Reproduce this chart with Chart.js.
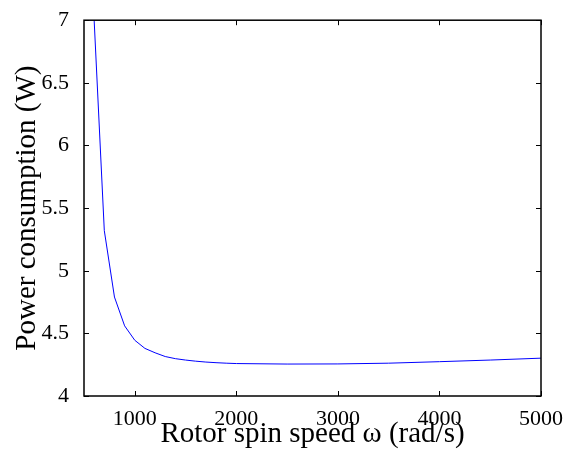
<!DOCTYPE html>
<html>
<head>
<meta charset="utf-8">
<script src="https://cdn.jsdelivr.net/npm/chart.js@4.4.0/dist/chart.umd.min.js"></script>
<style>
    html, body { margin: 0; padding: 0; background: #fff; }
    #contenedor { width: 565px; height: 452px; }
</style>
</head>
<body>
<div id="contenedor"><canvas id="grafico" width="565" height="452"></canvas></div>
<script>
// velocidad del rotor (rad/s) y potencia (W)
const velocidades = [600, 700, 800, 900, 1000, 1100, 1200, 1300, 1400, 1500, 1600, 1700, 1800, 1900, 2000, 2500, 3000, 3500, 4000, 4500, 5000];
const potencias = [7.0, 5.32, 4.79, 4.56, 4.445, 4.38, 4.345, 4.315, 4.298, 4.287, 4.278, 4.271, 4.266, 4.262, 4.259, 4.255, 4.256, 4.262, 4.274, 4.287, 4.302];

const ticksX = [1000, 2000, 3000, 4000, 5000];
const ticksY = [4, 4.5, 5, 5.5, 6, 6.5, 7];

const fuente = "'Liberation Serif', 'Times New Roman', serif";

// caja y marcas hacia dentro, estilo matlab
const marcoMatlab = {
    id: "marcoMatlab",
    afterDraw(chart) {
        const { ctx, chartArea: a, scales } = chart;
        const largo = 5;
        ctx.save();
        ctx.strokeStyle = "#000";
        ctx.lineWidth = 1;
        ctx.beginPath();
        ticksX.forEach((v) => {
            const x = Math.round(scales.x.getPixelForValue(v)) + 0.5;
            ctx.moveTo(x, a.bottom);
            ctx.lineTo(x, a.bottom - largo);
            ctx.moveTo(x, a.top);
            ctx.lineTo(x, a.top + largo);
        });
        ticksY.forEach((v) => {
            const y = Math.round(scales.y.getPixelForValue(v)) + 0.5;
            ctx.moveTo(a.left, y);
            ctx.lineTo(a.left + largo, y);
            ctx.moveTo(a.right, y);
            ctx.lineTo(a.right - largo, y);
        });
        ctx.stroke();
        ctx.lineWidth = 1.5;
        ctx.strokeRect(a.left, a.top, a.right - a.left, a.bottom - a.top);
        ctx.restore();
    },
};

const datos = velocidades.map((v, i) => ({ x: v, y: potencias[i] }));

new Chart(document.getElementById("grafico").getContext("2d"), {
    type: "line",
    data: {
        datasets: [
            {
                data: datos,
                borderColor: "#0000ff",
                borderWidth: 1,
                pointRadius: 0,
                tension: 0,
                fill: false,
            },
        ],
    },
    options: {
        responsive: false,
        animation: false,
        layout: { padding: { top: 19, right: 23, left: 0, bottom: 0 } },
        plugins: { legend: { display: false }, tooltip: { enabled: false } },
        scales: {
            x: {
                type: "linear",
                min: 500,
                max: 5000,
                afterBuildTicks: (s) => { s.ticks = ticksX.map((v) => ({ value: v })); },
                afterFit: (s) => { s.height = 56; },
                grid: { display: false },
                border: { display: false },
                ticks: {
                    color: "#000",
                    padding: 2,
                    maxRotation: 0,
                    font: { family: fuente, size: 22 },
                    callback: (v) => String(v),
                },
                title: {
                    display: true,
                    text: "Rotor spin speed ω (rad/s)",
                    color: "#000",
                    padding: { top: 0, bottom: 0 },
                    font: { family: fuente, size: 29 },
                },
            },
            y: {
                min: 4,
                max: 7,
                afterBuildTicks: (s) => { s.ticks = ticksY.map((v) => ({ value: v })); },
                afterFit: (s) => { s.width = 84; },
                grid: { display: false },
                border: { display: false },
                ticks: {
                    color: "#000",
                    padding: 7,
                    font: { family: fuente, size: 22 },
                    callback: (v) => String(v),
                },
                title: {
                    display: true,
                    text: "Power consumption (W)",
                    color: "#000",
                    padding: { top: 10, bottom: 0 },
                    font: { family: fuente, size: 29 },
                },
            },
        },
    },
    plugins: [marcoMatlab],
});
</script>
</body>
</html>
